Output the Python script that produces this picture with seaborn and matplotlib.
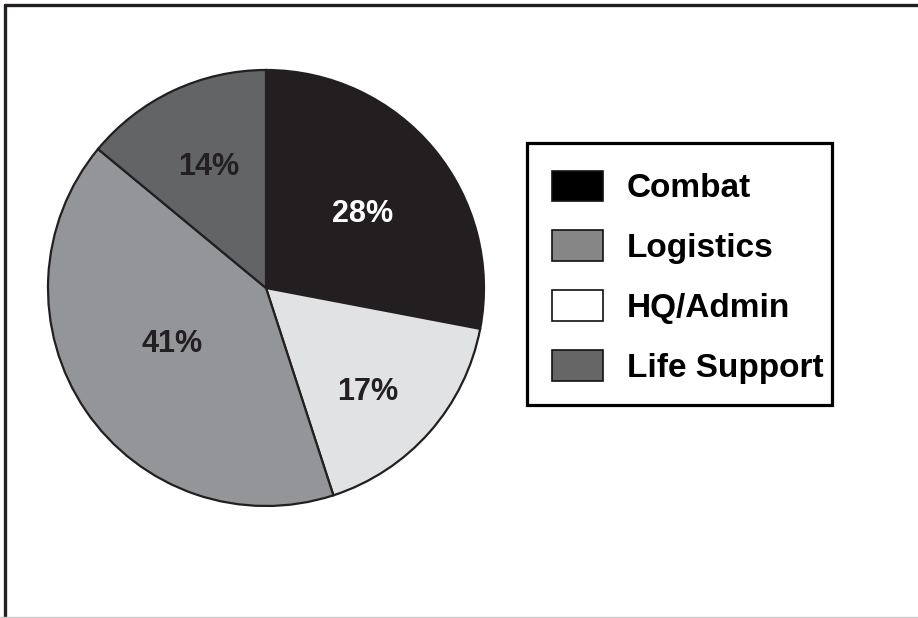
import numpy as np
import matplotlib
matplotlib.use("Agg")
import matplotlib.pyplot as plt
from matplotlib.lines import Line2D
from matplotlib.patches import Patch, Rectangle
import seaborn as sns

# Share of personnel by function (percent), in clockwise order from 12 o'clock
categories = ["Combat", "HQ/Admin", "Logistics", "Life Support"]
shares = [28, 17, 41, 14]

# Legend order
legend_order = ["Combat", "Logistics", "HQ/Admin", "Life Support"]

wedge_colors = {"Combat": "#231f20", "HQ/Admin": "#e1e2e4",
                "Logistics": "#939598", "Life Support": "#636466"}
key_colors = {"Combat": "#000000", "Logistics": "#868686",
              "HQ/Admin": "#ffffff", "Life Support": "#666666"}
label_colors = {"Combat": "#ffffff", "HQ/Admin": "#231f20",
                "Logistics": "#231f20", "Life Support": "#231f20"}
# label placement: fraction of radius, and angular nudge (degrees)
label_radius = {"Combat": 0.565, "HQ/Admin": 0.657, "Logistics": 0.493,
                "Life Support": 0.63}
label_nudge = {"Combat": -0.9, "HQ/Admin": -3.2, "Logistics": -5.2,
               "Life Support": -0.7}

sns.set_theme(style="white")
plt.rcParams["font.family"] = ["Liberation Sans", "DejaVu Sans"]
plt.rcParams["font.weight"] = "bold"

W, H = 918, 618
fig = plt.figure(figsize=(W / 100, H / 100), dpi=100)
fig.patch.set_facecolor("white")

cx, cy, r = 266, 288, 218
ax = fig.add_axes([(cx - r) / W, (H - cy - r) / H, 2 * r / W, 2 * r / H])
wedges, _ = ax.pie(
    shares,
    colors=[wedge_colors[c] for c in categories],
    startangle=90,
    counterclock=False,
    radius=1,
    wedgeprops=dict(edgecolor="#231f20", linewidth=1.6),
)
ax.set_xlim(-1, 1)
ax.set_ylim(-1, 1)
ax.set_aspect("equal")
ax.axis("off")

for w, cat, val in zip(wedges, categories, shares):
    mid = np.deg2rad((w.theta1 + w.theta2) / 2 + label_nudge[cat])
    rr = label_radius[cat]
    ax.text(rr * np.cos(mid), rr * np.sin(mid), f"{val}%",
            ha="center", va="center_baseline", fontsize=22,
            fontweight="bold", color=label_colors[cat])

# Legend box
fig.add_artist(Rectangle((527 / W, 1 - 405 / H), (832 - 527) / W,
                         (405 - 143) / H, transform=fig.transFigure,
                         facecolor="white", edgecolor="#000000",
                         linewidth=2.3, zorder=1))

handles = [Patch(facecolor=key_colors[c], edgecolor="#111111", linewidth=1.2)
           for c in legend_order]
leg = fig.legend(handles, legend_order, loc="upper left",
                 bbox_to_anchor=(552 / W, 1 - 170.5 / H),
                 bbox_transform=fig.transFigure,
                 fontsize=24, frameon=False,
                 handlelength=1.53, handleheight=1.05, handletextpad=0.72,
                 labelspacing=0.78, borderpad=0, borderaxespad=0)
leg.set_zorder(2)
for t in leg.get_texts():
    t.set_fontweight("bold")
    t.set_color("#000000")

# Border along the top and left edges, faint rule at the bottom
fig.add_artist(Line2D([5 / W, 1], [1 - 5 / H, 1 - 5 / H], color="#231f20",
                      linewidth=2.4, transform=fig.transFigure))
fig.add_artist(Line2D([5 / W, 5 / W], [0, 1 - 5 / H], color="#231f20",
                      linewidth=2.4, transform=fig.transFigure))
fig.add_artist(Line2D([0, 1], [0.6 / H, 0.6 / H], color="#c8c8c8",
                      linewidth=1.0, transform=fig.transFigure))

fig.savefig("out.png", dpi=100, facecolor="white")
